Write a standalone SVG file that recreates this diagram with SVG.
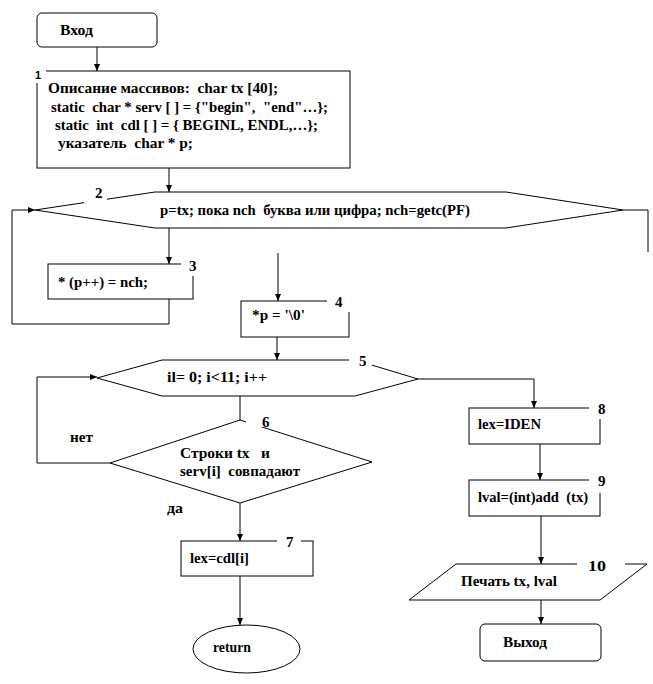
<svg xmlns="http://www.w3.org/2000/svg" width="653" height="684" viewBox="0 0 653 684">
<style>
.t{font-family:"Liberation Serif","Times New Roman",serif;font-weight:bold;font-size:15px;fill:#000;white-space:pre}
.n{font-family:"Liberation Serif","Times New Roman",serif;font-weight:bold;font-size:15px;fill:#000}
.n1{font-family:"Liberation Sans",Arial,sans-serif;font-weight:bold;font-size:11px;fill:#000}
.s{fill:#fff;stroke:#000;stroke-width:1}
.c{fill:none;stroke:#000;stroke-width:1}
.w{fill:#fff;stroke:none}
</style>
<defs>
<marker id="ah" markerUnits="userSpaceOnUse" markerWidth="7" markerHeight="6" refX="7" refY="3" orient="auto">
<path d="M0,0 L7,3 L0,6 z" fill="#000"/>
</marker>
</defs>
<rect width="653" height="684" fill="#fff"/>
<g id="connectors">
<path class="c" d="M97,47 V71" marker-end="url(#ah)"/>
<path class="c" d="M169,168 V192" marker-end="url(#ah)"/>
<path class="c" d="M169,228 V264" marker-end="url(#ah)"/>
<path class="c" d="M169,299 V324 H12 V210 H35" marker-end="url(#ah)"/>
<path class="c" d="M623,210 H648 V252"/>
<path class="c" d="M278,253 V301" marker-end="url(#ah)"/>
<path class="c" d="M277,337 V360" marker-end="url(#ah)"/>
<path class="c" d="M240,396 V420"/>
<path class="c" d="M110,463 H37 V377 H97" marker-end="url(#ah)"/>
<path class="c" d="M240,503 V541" marker-end="url(#ah)"/>
<path class="c" d="M240,576 V625" marker-end="url(#ah)"/>
<path class="c" d="M418,379 H534 V408" marker-end="url(#ah)"/>
<path class="c" d="M540,444 V480" marker-end="url(#ah)"/>
<path class="c" d="M541,516 V564" marker-end="url(#ah)"/>
<path class="c" d="M541,600 V624" marker-end="url(#ah)"/>
</g>
<g id="start">
<rect class="s" x="37" y="13" width="120" height="34" rx="5"/>
<text class="t" x="60" y="35" textLength="33" lengthAdjust="spacingAndGlyphs">Вход</text>
</g>
<g id="n1">
<rect class="s" x="37" y="71" width="313" height="97"/>
<rect class="w" x="32" y="65" width="14" height="18"/>
<text class="n1" x="35" y="79">1</text>
<text class="t" x="48" y="93" textLength="230" lengthAdjust="spacingAndGlyphs">Описание массивов:  char tx [40];</text>
<text class="t" x="51" y="112" textLength="277" lengthAdjust="spacingAndGlyphs">static  char * serv [ ] = {"begin",  "end"…};</text>
<text class="t" x="55" y="130" textLength="263" lengthAdjust="spacingAndGlyphs">static  int  cdl [ ] = { BEGINL, ENDL,…};</text>
<text class="t" x="58" y="148" textLength="135" lengthAdjust="spacingAndGlyphs">указатель  char * p;</text>
</g>
<g id="n2">
<polygon class="s" points="35,210 155,192 506,192 623,210 506,228 155,228"/>
<rect class="w" x="84" y="185" width="23" height="18"/>
<text class="n" x="95" y="198">2</text>
<text class="t" x="160" y="215" textLength="310" lengthAdjust="spacingAndGlyphs">p=tx; пока nch  буква или цифра; nch=getc(PF)</text>
</g>
<g id="n3">
<rect class="s" x="48" y="264" width="145" height="35"/>
<rect class="w" x="181" y="258" width="18" height="18"/>
<text class="n" x="189" y="271">3</text>
<text class="t" x="58" y="287" textLength="90" lengthAdjust="spacingAndGlyphs">* (p++) = nch;</text>
</g>
<g id="n4">
<rect class="s" x="241" y="301" width="108" height="36"/>
<rect class="w" x="327" y="294" width="25" height="18"/>
<text class="n" x="335" y="307">4</text>
<text class="t" x="252" y="320" textLength="53" lengthAdjust="spacingAndGlyphs">*p = '\0'</text>
</g>
<g id="n5">
<polygon class="s" points="97,378 162,360 355,360 418,379 355,396 162,396"/>
<rect class="w" x="349" y="354" width="23" height="13"/>
<text class="n" x="359" y="366">5</text>
<text class="t" x="167" y="382" textLength="100" lengthAdjust="spacingAndGlyphs">il= 0; i&lt;11; i++</text>
</g>
<g id="n6">
<polygon class="s" points="240,420 372,462 240,503 110,463"/>
<rect class="w" x="246" y="413" width="30" height="14"/>
<text class="n" x="262" y="427">6</text>
<text class="t" x="180" y="458" textLength="90" lengthAdjust="spacingAndGlyphs">Строки tx   и</text>
<text class="t" x="180" y="476" textLength="120" lengthAdjust="spacingAndGlyphs">serv[i]  совпадают</text>
</g>
<g id="labels">
<text class="t" x="70" y="442" textLength="23" lengthAdjust="spacingAndGlyphs">нет</text>
<text class="t" x="167" y="513" textLength="16" lengthAdjust="spacingAndGlyphs">да</text>
</g>
<g id="n7">
<rect class="s" x="181" y="541" width="132" height="35"/>
<rect class="w" x="277" y="535" width="24" height="12"/>
<text class="n" x="286" y="547">7</text>
<text class="t" x="190" y="563" textLength="59" lengthAdjust="spacingAndGlyphs">lex=cdl[i]</text>
</g>
<g id="ret">
<ellipse class="s" cx="246.5" cy="649" rx="53.5" ry="24"/>
<text class="t" x="213" y="652" textLength="38" lengthAdjust="spacingAndGlyphs">return</text>
</g>
<g id="n8">
<rect class="s" x="469" y="408" width="131" height="36"/>
<rect class="w" x="589" y="401" width="18" height="18"/>
<text class="n" x="598" y="414">8</text>
<text class="t" x="478" y="429" textLength="63" lengthAdjust="spacingAndGlyphs">lex=IDEN</text>
</g>
<g id="n9">
<rect class="s" x="469" y="480" width="131" height="36"/>
<rect class="w" x="589" y="473" width="18" height="20"/>
<text class="n" x="598" y="486">9</text>
<text class="t" x="478" y="502" textLength="110" lengthAdjust="spacingAndGlyphs">lval=(int)add  (tx)</text>
</g>
<g id="n10">
<polygon class="s" points="456,564 647,564 600,600 409,600"/>
<rect class="w" x="577" y="558" width="48" height="12"/>
<text class="n" x="588" y="571" textLength="18" lengthAdjust="spacingAndGlyphs">10</text>
<text class="t" x="461" y="586" textLength="96" lengthAdjust="spacingAndGlyphs">Печать tx, lval</text>
</g>
<g id="end">
<rect class="s" x="480" y="624" width="121" height="37" rx="5"/>
<text class="t" x="503" y="647" textLength="44" lengthAdjust="spacingAndGlyphs">Выход</text>
</g>
</svg>
